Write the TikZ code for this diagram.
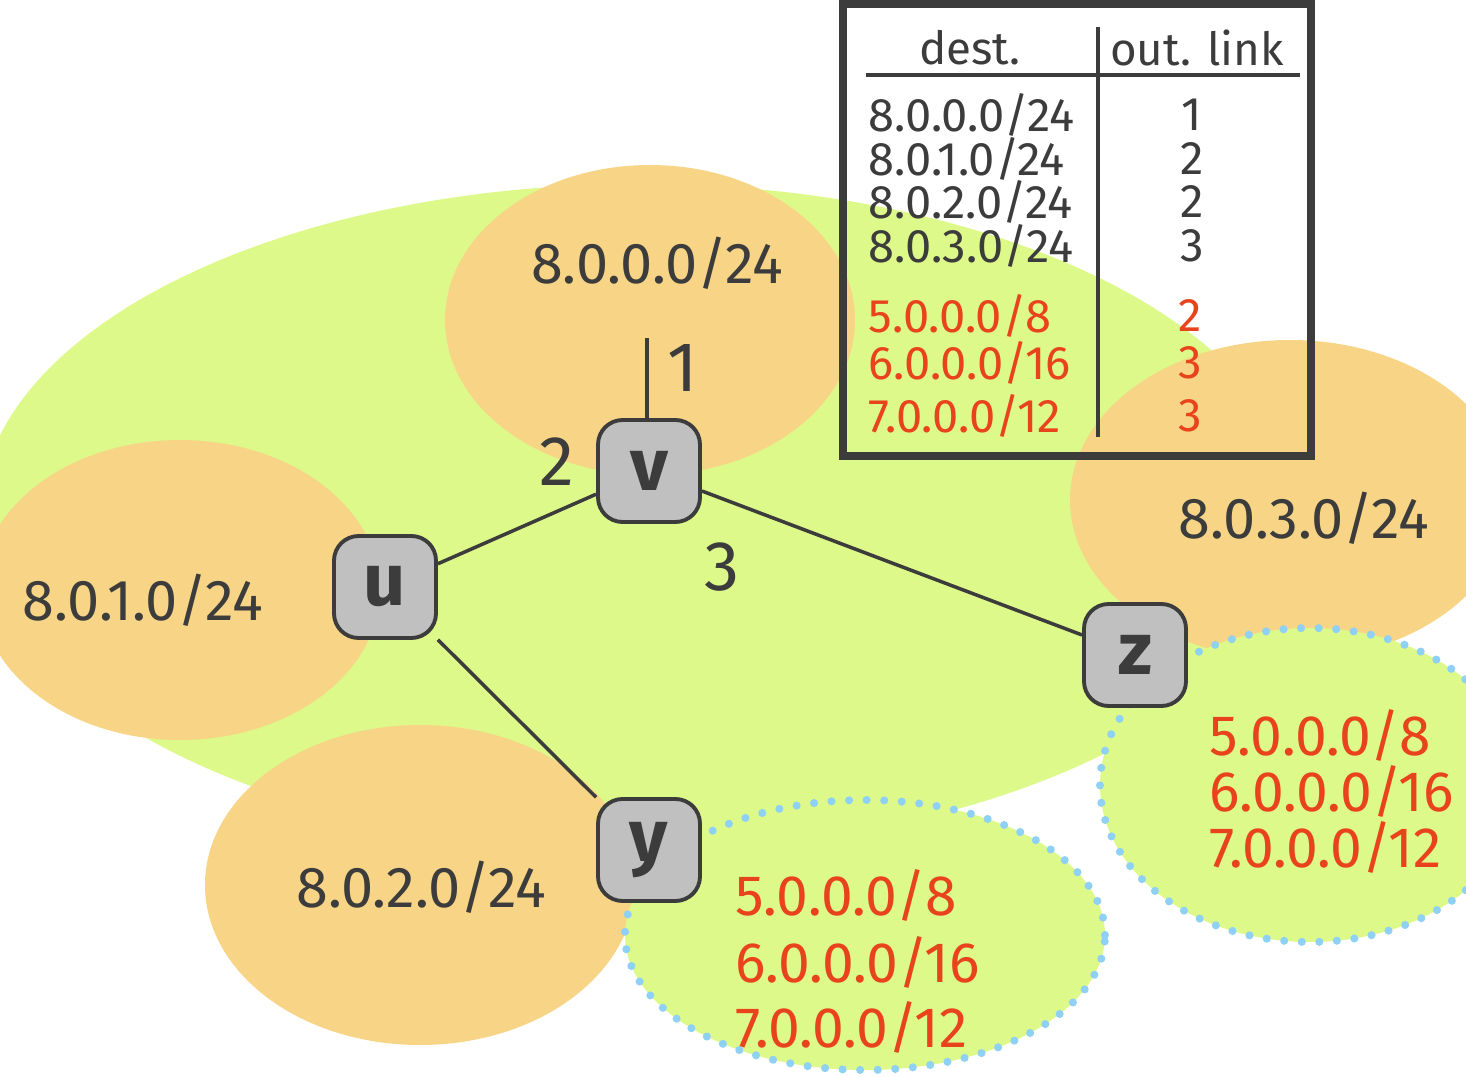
\documentclass[tikz,border=0pt]{standalone}
\usepackage{fontspec}
\setmainfont{Fira Sans}
\definecolor{netgreen}{RGB}{221,249,138}
\definecolor{subnetorange}{RGB}{247,212,134}
\definecolor{dotblue}{RGB}{143,208,245}
\definecolor{boxgray}{RGB}{192,192,192}
\definecolor{inkgray}{RGB}{60,60,60}
\definecolor{pfxred}{RGB}{232,67,28}
\tikzset{
  router/.style={draw=inkgray, fill=boxgray, rounded corners=7pt, minimum size=1.02cm,
    inner sep=0pt, line width=1.1pt, text=inkgray, font=\fontsize{21}{21}\selectfont\bfseries},
  subnet/.style={fill=subnetorange},
  outside/.style={fill=netgreen, draw=dotblue, line width=2.3pt, line cap=round,
    dash pattern=on 0pt off 5pt},
  netlabel/.style={text=inkgray, font=\fontsize{16.4}{18}\selectfont},
  extlabel/.style={text=pfxred, anchor=west, font=\fontsize{16.2}{18}\selectfont},
  portlabel/.style={text=inkgray, font=\fontsize{20}{20}\selectfont},
  tabtext/.style={text=inkgray, inner sep=0pt, font=\fontsize{13.4}{14}\selectfont},
  tabhead/.style={text=inkgray, font=\fontsize{13}{14}\selectfont},
  link/.style={draw=inkgray, line width=1pt}
}

\begin{document}
\begin{tikzpicture}
  \useasboundingbox (0,0) rectangle (14.66,10.76);
  % network and its subnets
  \fill[netgreen] (6.40,5.59) ellipse [x radius=6.6, y radius=3.33];
  \fill[subnet] (6.50,7.56) ellipse [x radius=2.05, y radius=1.55];
  \fill[subnet] (1.80,4.86) ellipse [x radius=2.0, y radius=1.5];
  \fill[subnet] (4.20,1.91) ellipse [x radius=2.15, y radius=1.6];
  \fill[subnet] (12.90,5.76) ellipse [x radius=2.2, y radius=1.6];
  \draw[outside] (13.10,2.91) ellipse [x radius=2.1, y radius=1.57];
  \draw[outside] (8.65,1.41) ellipse [x radius=2.4, y radius=1.35];

  % routers
  \node[router] (v) at (6.49,6.05) {v};
  \node[router] (u) at (3.85,4.89) {u};
  \node[router] (z) at (11.35,4.21) {z};
  \node[router] (y) at (6.49,2.26) {y};
  \coordinate (l1) at (6.47,7.38);
  \draw[link] (v.north -| l1) -- (l1);
  \draw[link] (u) -- (v);
  \draw[link] (v) -- (z);
  \draw[link] (u) -- (y);
  \node[portlabel] (p1) at (6.83,7.08) {1};
  \node[portlabel] (p2) at (5.57,6.14) {2};
  \node[portlabel] (p3) at (7.22,5.09) {3};

  % subnet labels
  \node[netlabel] (n0) at (6.57,8.13) {8.0.0.0/24};
  \node[netlabel] (n1) at (1.43,4.76) {8.0.1.0/24};
  \node[netlabel] (n2) at (4.21,1.89) {8.0.2.0/24};
  \node[netlabel] (n3) at (13.04,5.58) {8.0.3.0/24};
  \node[extlabel] (ya) at (7.23,1.81) {5.0.0.0/8};
  \node[extlabel] (yb) at (7.23,1.14) {6.0.0.0/16};
  \node[extlabel] (yc) at (7.23,0.49) {7.0.0.0/12};
  \node[extlabel] (za) at (11.97,3.41) {5.0.0.0/8};
  \node[extlabel] (zb) at (11.97,2.85) {6.0.0.0/16};
  \node[extlabel] (zc) at (11.97,2.29) {7.0.0.0/12};

  % forwarding table of v
  \draw[draw=inkgray, line width=2pt] (8.43,10.72) rectangle (13.11,6.20);
  \node[tabhead] (hd) at (9.70,10.28) {dest.};
  \node[tabhead] (hl) at (11.97,10.28) {out. link};
  \draw[link] (8.66,10.01) -- (13.00,10.01);
  \draw[link] (10.98,10.49) -- (10.98,6.39);
  \node[tabtext, anchor=west] (d0) at (8.68,9.61) {8.0.0.0/24};
  \node[tabtext, anchor=west] (d1) at (8.68,9.17) {8.0.1.0/24};
  \node[tabtext, anchor=west] (d2) at (8.68,8.74) {8.0.2.0/24};
  \node[tabtext, anchor=west] (d3) at (8.68,8.30) {8.0.3.0/24};
  \node[tabtext, text=pfxred, anchor=west] (d4) at (8.68,7.60) {5.0.0.0/8};
  \node[tabtext, text=pfxred, anchor=west] (d5) at (8.68,7.13) {6.0.0.0/16};
  \node[tabtext, text=pfxred, anchor=west] (d6) at (8.68,6.60) {7.0.0.0/12};
  \node[tabtext] (o0) at (11.92,9.61) {1};
  \node[tabtext] (o1) at (11.92,9.17) {2};
  \node[tabtext] (o2) at (11.92,8.74) {2};
  \node[tabtext] (o3) at (11.92,8.30) {3};
  \node[tabtext, text=pfxred] (o4) at (11.90,7.60) {2};
  \node[tabtext, text=pfxred] (o5) at (11.90,7.13) {3};
  \node[tabtext, text=pfxred] (o6) at (11.90,6.60) {3};
\end{tikzpicture}
\end{document}
